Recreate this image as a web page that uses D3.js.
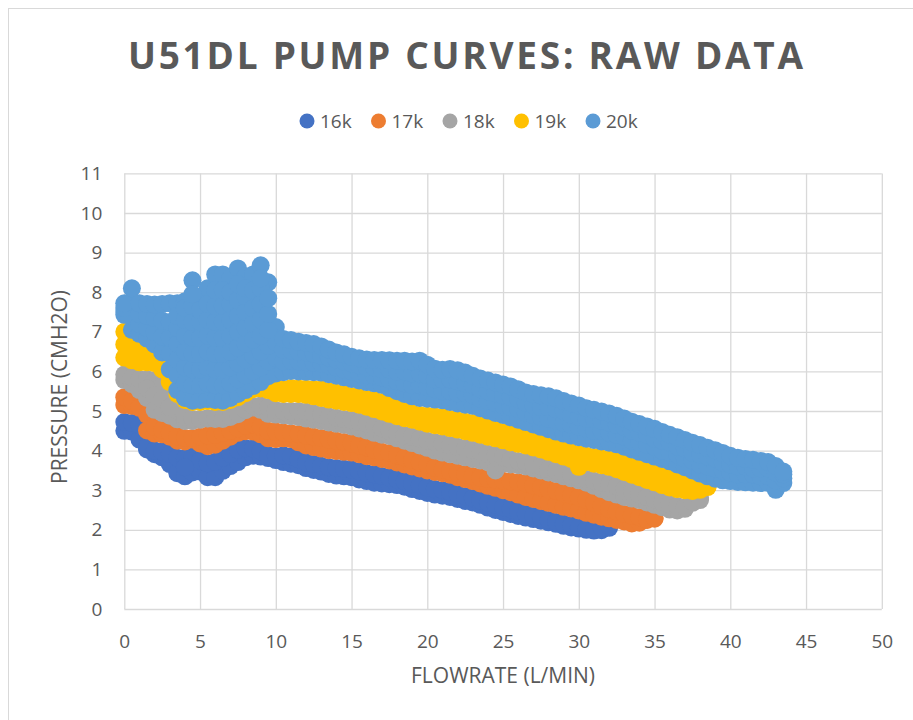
<!DOCTYPE html>
<html>
<head>
<meta charset="utf-8">
<script src="https://cdn.jsdelivr.net/npm/d3@7"></script>
<style>
  body { margin: 0; background: #fff; }
  svg text { font-family: "Open Sans", "DejaVu Sans", sans-serif; fill: #595959; }
</style>
</head>
<body>
<svg id="chart" width="913" height="720"></svg>
<script>
// Flowrate grid (L/min) shared by the readings below
var FLOW = [0, 0.5, 1, 1.5, 2, 2.5, 3, 3.5, 4, 4.5, 5, 5.5, 6, 6.5, 7, 7.5, 8, 8.5, 9, 9.5,
  10, 10.5, 11, 11.5, 12, 12.5, 13, 13.5, 14, 14.5, 15, 15.5, 16, 16.5, 17, 17.5, 18, 18.5, 19, 19.5,
  20, 20.5, 21, 21.5, 22, 22.5, 23, 23.5, 24, 24.5, 25, 25.5, 26, 26.5, 27, 27.5, 28, 28.5, 29, 29.5,
  30, 30.5, 31, 31.5, 32, 32.5, 33, 33.5, 34, 34.5, 35, 35.5, 36, 36.5, 37, 37.5, 38, 38.5, 39, 39.5,
  40, 40.5, 41, 41.5, 42, 42.5, 43, 43.5];

var SERIES = ["16k", "17k", "18k", "19k", "20k"];
var X_TICKS = [0, 5, 10, 15, 20, 25, 30, 35, 40, 45, 50];
var Y_TICKS = [0, 1, 2, 3, 4, 5, 6, 7, 8, 9, 10, 11];

// pressure readings (cmH2O), low and high readings at each flowrate
var s16Low = [4.50, 4.48, 4.28, 4.03, 3.91, 3.83, 3.66, 3.43, 3.35, 3.45,
  3.47, 3.33, 3.33, 3.49, 3.61, 3.71, 3.83, 3.87, 3.85, 3.81,
  3.76, 3.71, 3.67, 3.63, 3.56, 3.51, 3.47, 3.41, 3.37, 3.35,
  3.33, 3.27, 3.23, 3.19, 3.17, 3.15, 3.13, 3.09, 3.03, 2.98,
  2.93, 2.89, 2.86, 2.83, 2.78, 2.73, 2.69, 2.63, 2.56, 2.50,
  2.45, 2.40, 2.35, 2.31, 2.27, 2.23, 2.19, 2.15, 2.10, 2.06,
  2.03, 2.00, 1.98, 1.99, 2.05];
var s16High = [4.72, 4.70, 4.65, 4.08, 4.00, 3.98, 3.92, 3.82, 3.80, 3.85,
  3.75, 3.68, 3.72, 3.82, 3.92, 4.02, 4.06, 4.05, 3.98, 3.88,
  3.86, 3.88, 3.86, 3.78, 3.70, 3.66, 3.62, 3.58, 3.56, 3.54,
  3.52, 3.48, 3.43, 3.40, 3.36, 3.32, 3.27, 3.22, 3.17, 3.12,
  3.07, 3.03, 3.00, 2.96, 2.90, 2.85, 2.80, 2.74, 2.68, 2.63,
  2.57, 2.52, 2.46, 2.40, 2.35, 2.30, 2.25, 2.20, 2.15, 2.11,
  2.06, 2.02, 2.00, 2.05, 2.10];
var s16Extra = [[4, 3.58]];

var s17Low = [5.15, 5.13, 5.08, 4.51, 4.43, 4.41, 4.35, 4.25, 4.23, 4.28,
  4.18, 4.11, 4.15, 4.25, 4.35, 4.45, 4.49, 4.48, 4.41, 4.31,
  4.29, 4.31, 4.29, 4.21, 4.13, 4.09, 4.05, 4.01, 3.99, 3.97,
  3.95, 3.91, 3.86, 3.83, 3.79, 3.75, 3.70, 3.65, 3.60, 3.55,
  3.50, 3.46, 3.43, 3.39, 3.33, 3.28, 3.23, 3.17, 3.11, 3.06,
  3.00, 2.95, 2.89, 2.83, 2.78, 2.73, 2.68, 2.63, 2.58, 2.54,
  2.49, 2.43, 2.38, 2.33, 2.29, 2.25, 2.21, 2.16, 2.18, 2.25,
  2.28];
var s17High = [5.35, 5.25, 5.10, 4.90, 4.60, 4.52, 4.45, 4.36, 4.32, 4.32,
  4.35, 4.38, 4.40, 4.45, 4.50, 4.56, 4.63, 4.66, 4.60, 4.50,
  4.48, 4.46, 4.44, 4.42, 4.38, 4.35, 4.32, 4.28, 4.25, 4.22,
  4.18, 4.13, 4.08, 4.02, 3.97, 3.94, 3.88, 3.82, 3.76, 3.70,
  3.64, 3.57, 3.52, 3.48, 3.44, 3.40, 3.36, 3.32, 3.28, 3.26,
  3.24, 3.22, 3.20, 3.17, 3.12, 3.07, 3.02, 2.98, 2.92, 2.87,
  2.82, 2.76, 2.68, 2.60, 2.52, 2.46, 2.40, 2.36, 2.32, 2.26,
  2.30];
var s17Extra = [];

var s18Low = [5.78, 5.68, 5.53, 5.33, 5.03, 4.95, 4.88, 4.79, 4.75, 4.75,
  4.78, 4.81, 4.83, 4.88, 4.93, 4.99, 5.06, 5.09, 5.03, 4.93,
  4.91, 4.89, 4.87, 4.85, 4.81, 4.78, 4.75, 4.71, 4.68, 4.65,
  4.61, 4.56, 4.51, 4.45, 4.40, 4.37, 4.31, 4.25, 4.19, 4.13,
  4.07, 4.00, 3.95, 3.91, 3.87, 3.83, 3.79, 3.75, 3.71, 3.50,
  3.67, 3.65, 3.63, 3.60, 3.55, 3.50, 3.45, 3.41, 3.35, 3.30,
  3.25, 3.19, 3.11, 3.03, 2.95, 2.89, 2.83, 2.79, 2.75, 2.69,
  2.63, 2.57, 2.51, 2.49, 2.53, 2.68, 2.75];
var s18High = [5.92, 5.85, 5.80, 5.80, 5.78, 5.65, 5.30, 5.00, 4.85, 4.80,
  4.80, 4.82, 4.80, 4.80, 4.85, 4.92, 5.02, 5.12, 5.14, 5.10,
  5.02, 5.00, 5.00, 5.00, 4.98, 4.94, 4.90, 4.86, 4.83, 4.80,
  4.77, 4.73, 4.68, 4.62, 4.56, 4.50, 4.44, 4.39, 4.35, 4.30,
  4.25, 4.21, 4.18, 4.14, 4.10, 4.06, 4.02, 3.97, 3.92, 3.88,
  3.83, 3.78, 3.74, 3.70, 3.65, 3.60, 3.54, 3.48, 3.42, 3.36,
  3.30, 3.28, 3.24, 3.20, 3.16, 3.10, 3.03, 2.96, 2.90, 2.83,
  2.77, 2.70, 2.64, 2.60, 2.57, 2.70, 2.80];
var s18Extra = [[1.5, 5.57], [2, 5.4], [2.5, 5.3], [3, 5.1]];

var s19Low = [6.35, 6.28, 6.23, 6.23, 6.21, 6.08, 5.73, 5.43, 5.28, 5.23,
  5.23, 5.25, 5.23, 5.23, 5.28, 5.35, 5.45, 5.55, 5.57, 5.53,
  5.45, 5.43, 5.43, 5.43, 5.41, 5.37, 5.33, 5.29, 5.26, 5.23,
  5.20, 5.16, 5.11, 5.05, 4.99, 4.93, 4.87, 4.82, 4.78, 4.73,
  4.68, 4.64, 4.61, 4.57, 4.53, 4.49, 4.45, 4.40, 4.35, 4.31,
  4.26, 4.21, 4.17, 4.13, 4.08, 4.03, 3.97, 3.91, 3.85, 3.79,
  3.59, 3.71, 3.67, 3.63, 3.59, 3.53, 3.46, 3.39, 3.33, 3.26,
  3.20, 3.13, 3.07, 3.03, 3.00, 2.98, 3.01, 3.08];
var s19High = [7.00, 6.62, 6.52, 6.40, 6.25, 6.05, 5.90, 5.70, 5.55, 5.50,
  5.50, 5.50, 5.50, 5.50, 5.55, 5.60, 5.70, 5.75, 5.80, 5.75,
  5.60, 5.55, 5.58, 5.57, 5.56, 5.55, 5.54, 5.50, 5.46, 5.42,
  5.38, 5.34, 5.30, 5.27, 5.23, 5.15, 5.07, 5.00, 4.94, 4.90,
  4.88, 4.86, 4.84, 4.80, 4.76, 4.73, 4.70, 4.64, 4.58, 4.52,
  4.47, 4.41, 4.35, 4.29, 4.23, 4.17, 4.11, 4.05, 4.00, 3.95,
  3.91, 3.87, 3.84, 3.80, 3.77, 3.73, 3.67, 3.60, 3.54, 3.48,
  3.42, 3.36, 3.30, 3.22, 3.15, 3.07, 3.05, 3.10];
var s19Extra = [[0, 6.68]];

var s20Low = [7.43, 7.05, 6.95, 6.83, 6.68, 6.48, 6.05, 5.53, 5.33, 5.26,
  5.28, 5.30, 5.28, 5.26, 5.33, 5.43, 5.53, 5.63, 5.73, 5.88,
  5.95, 5.98, 6.01, 6.00, 5.99, 5.98, 5.97, 5.93, 5.89, 5.85,
  5.81, 5.77, 5.73, 5.70, 5.66, 5.58, 5.50, 5.43, 5.37, 5.33,
  5.31, 5.29, 5.27, 5.23, 5.19, 5.16, 5.13, 5.07, 5.01, 4.95,
  4.90, 4.84, 4.78, 4.72, 4.66, 4.60, 4.54, 4.48, 4.43, 4.38,
  4.34, 4.30, 4.27, 4.23, 4.20, 4.16, 4.10, 4.03, 3.97, 3.91,
  3.85, 3.79, 3.73, 3.65, 3.58, 3.50, 3.42, 3.35, 3.29, 3.25,
  3.23, 3.21, 3.20, 3.19, 3.18, 3.18, 3.01, 3.18];
var s20MidLow = [7.5, 7.4, 7.2, 7.1, 7.0, 6.88, 6.45, 5.9, 5.7, 5.65,
  5.65, 5.7, 5.65, 5.65, 5.7, 5.8, 5.9, 6.0, 6.1, 6.25,
  6.35, 6.25, 6.27, 6.25, 6.23, 6.22, 6.2, 6.15, 6.1, 6.05,
  6.0, 5.95, 5.9, 5.9, 5.85, 5.8, 5.75, 5.7, 5.65, 5.65,
  5.6, 5.55, 5.5, 5.5, 5.45, 5.45, 5.4, 5.3, 5.25, 5.2,
  5.15, 5.1, 5.05, 4.95, 4.9, 4.85, 4.8, 4.75, 4.7, 4.65,
  4.6, 4.55, 4.5, 4.5, 4.45, 4.4, 4.35, 4.25, 4.2, 4.15,
  4.1, 4.0, 3.95, 3.9, 3.8, 3.75, 3.65, 3.6, 3.55, 3.5,
  3.45, 3.4, 3.4, 3.4, 3.35, 3.35, 3.25, 3.3];
var s20MidHigh = [7.6, 7.75, 7.45, 7.4, 7.35, 7.28, 6.85, 6.3, 6.1, 6.05,
  6.05, 6.1, 6.05, 6.05, 6.1, 6.2, 6.3, 6.4, 6.5, 6.65,
  6.75, 6.55, 6.53, 6.5, 6.48, 6.45, 6.4, 6.35, 6.3, 6.25,
  6.2, 6.15, 6.1, 6.1, 6.05, 6.05, 6.0, 6.0, 5.95, 5.95,
  5.9, 5.8, 5.8, 5.8, 5.75, 5.7, 5.65, 5.55, 5.5, 5.45,
  5.4, 5.35, 5.3, 5.2, 5.15, 5.1, 5.1, 5.05, 5.0, 4.9,
  4.85, 4.8, 4.8, 4.75, 4.7, 4.65, 4.6, 4.5, 4.45, 4.4,
  4.3, 4.25, 4.2, 4.1, 4.05, 3.95, 3.9, 3.85, 3.8, 3.7,
  3.65, 3.6, 3.6, 3.55, 3.55, 3.55, 3.45, 3.4];
var s20High = [7.72, 8.10, 7.72, 7.70, 7.69, 7.70, 7.72, 7.72, 7.77, 8.30,
  7.77, 8.10, 8.45, 8.45, 8.35, 8.60, 8.40, 8.45, 8.68, 8.25,
  7.12, 6.82, 6.79, 6.75, 6.72, 6.69, 6.63, 6.55, 6.48, 6.43,
  6.37, 6.33, 6.30, 6.29, 6.29, 6.28, 6.27, 6.27, 6.25, 6.27,
  6.17, 6.07, 6.04, 6.06, 6.03, 5.97, 5.89, 5.82, 5.77, 5.72,
  5.67, 5.62, 5.55, 5.47, 5.43, 5.40, 5.37, 5.32, 5.25, 5.19,
  5.14, 5.07, 5.03, 4.99, 4.94, 4.88, 4.81, 4.73, 4.67, 4.61,
  4.55, 4.47, 4.40, 4.34, 4.27, 4.20, 4.14, 4.07, 4.01, 3.94,
  3.87, 3.82, 3.79, 3.77, 3.74, 3.71, 3.61, 3.47];
// the unsteady readings at low flow
var s20Extra = [[3, 7.25],
  [3.5, 6.7], [3.5, 7.1], [3.5, 7.4],
  [4, 6.5], [4, 6.9], [4, 7.3], [4, 7.6],
  [4.5, 6.45], [4.5, 6.85], [4.5, 7.25], [4.5, 7.65], [4.5, 7.95],
  [5, 6.45], [5, 6.85], [5, 7.25], [5, 7.55],
  [5.5, 6.5], [5.5, 6.9], [5.5, 7.3], [5.5, 7.7],
  [6, 6.45], [6, 6.85], [6, 7.25], [6, 7.65], [6, 8.05],
  [6.5, 6.45], [6.5, 6.85], [6.5, 7.25], [6.5, 7.65], [6.5, 8.05],
  [7, 6.5], [7, 6.9], [7, 7.3], [7, 7.7], [7, 8.0],
  [7.5, 6.6], [7.5, 7.0], [7.5, 7.4], [7.5, 7.8], [7.5, 8.2],
  [8, 6.7], [8, 7.1], [8, 7.5], [8, 7.9], [8, 8.1],
  [8.5, 6.8], [8.5, 7.2], [8.5, 7.6], [8.5, 8.05],
  [9, 6.9], [9, 7.3], [9, 7.7], [9, 8.1], [9, 8.35],
  [9.5, 7.05], [9.5, 7.45], [9.5, 7.85]];

var rowsBySeries = [
  { rows: [s16Low, s16High], extra: s16Extra },
  { rows: [s17Low, s17High], extra: s17Extra },
  { rows: [s18Low, s18High], extra: s18Extra },
  { rows: [s19Low, s19High], extra: s19Extra },
  { rows: [s20Low, s20MidLow, s20MidHigh, s20High], extra: s20Extra }
];
var colors = ["#4472C4", "#ED7D31", "#A5A5A5", "#FFC000", "#5B9BD5"];

function toPoints(s) {
  var pts = [];
  s.rows.forEach(function(row) {
    row.forEach(function(p, i) { pts.push([FLOW[i], p]); });
  });
  s.extra.forEach(function(e) { pts.push(e); });
  return pts;
}

function renderChart() {
  var svg = d3.select("#chart");
  var margin = { left: 124.3, right: 31.2, top: 173.4, bottom: 111 };
  var width = 913, height = 720;
  var plotW = width - margin.left - margin.right;
  var plotH = height - margin.top - margin.bottom;

  svg.append("rect")
    .attr("x", 8.5).attr("y", 8.5)
    .attr("width", 920).attr("height", 720)
    .attr("fill", "none").attr("stroke", "#d9d9d9");

  var x = d3.scaleLinear().domain([0, 50]).range([margin.left, margin.left + plotW]);
  var y = d3.scaleLinear().domain([0, 11]).range([margin.top + plotH, margin.top]);

  // gridlines + tick labels
  var xAxis = d3.axisBottom(x).tickValues(X_TICKS).tickSize(-plotH).tickFormat(d3.format("d"));
  var gx = svg.append("g")
    .attr("transform", "translate(0," + (margin.top + plotH) + ")")
    .call(xAxis);
  gx.select(".domain").remove();
  gx.selectAll("line").attr("stroke", "#d9d9d9").attr("stroke-width", 1.3);
  gx.selectAll("text").attr("y", 39).attr("dy", null)
    .style("font-size", "19px").attr("fill", "#595959");

  var yAxis = d3.axisLeft(y).tickValues(Y_TICKS).tickSize(-plotW).tickFormat(d3.format("d"));
  var gy = svg.append("g")
    .attr("transform", "translate(" + margin.left + ",0)")
    .call(yAxis);
  gy.select(".domain").remove();
  gy.selectAll("line").attr("stroke", "#d9d9d9").attr("stroke-width", 1.3);
  gy.selectAll("text").attr("x", -22)
    .style("font-size", "19px").attr("fill", "#595959");

  // points, one layer per series
  rowsBySeries.forEach(function(s, k) {
    svg.append("g").attr("class", "series s" + SERIES[k])
      .selectAll("circle")
      .data(toPoints(s))
      .enter()
      .append("circle")
      .attr("cx", function(d) { return x(d[0]); })
      .attr("cy", function(d) { return y(d[1]); })
      .attr("r", 9)
      .attr("fill", colors[k]);
  });

  // title
  svg.append("text")
    .attr("x", 465.5).attr("y", 69)
    .attr("text-anchor", "middle")
    .attr("textLength", 675).attr("lengthAdjust", "spacing")
    .style("font-size", "37px").style("font-weight", "bold")
    .text("U51DL PUMP CURVES: RAW DATA");

  // legend
  var legend = svg.append("g").attr("transform", "translate(307,121)");
  var item = legend.selectAll("g").data(SERIES).enter().append("g")
    .attr("transform", function(d, i) { return "translate(" + (i * 71.5) + ",0)"; });
  item.append("circle").attr("r", 7.5).attr("fill", function(d, i) { return colors[i]; });
  item.append("text").attr("x", 13).attr("dy", "0.35em")
    .style("font-size", "19px").text(function(d) { return d; });

  // axis titles
  svg.append("text")
    .attr("x", margin.left + plotW / 2).attr("y", 683)
    .attr("text-anchor", "middle")
    .style("font-size", "21px")
    .text("FLOWRATE (L/MIN)");

  svg.append("text")
    .attr("transform", "translate(67,387) rotate(-90)")
    .attr("text-anchor", "middle")
    .style("font-size", "21px")
    .text("PRESSURE (CMH2O)");
}

window.onload = renderChart;
</script>
</body>
</html>
